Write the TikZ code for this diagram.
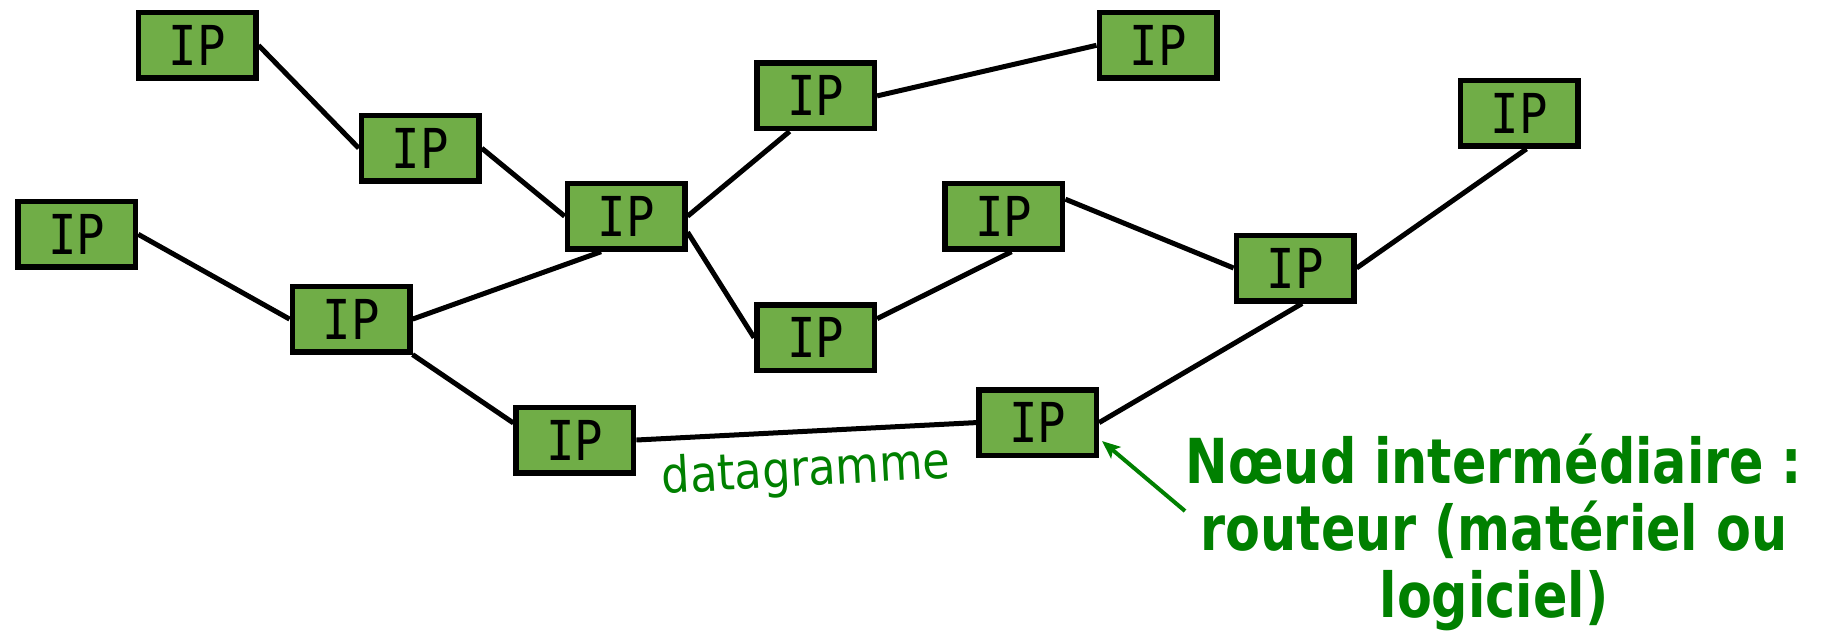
\documentclass[tikz,border=0pt]{standalone}
\usepackage{fontspec}
\setmainfont{DejaVu Sans}
\newfontfamily\ipfont[FakeStretch=0.86]{DejaVu Sans Mono}
\newfontfamily\dgfont[FakeStretch=0.89]{DejaVu Sans}
\newfontfamily\condbold[FakeStretch=0.82]{DejaVu Sans Bold}
\usetikzlibrary{calc,arrows.meta,backgrounds}
\definecolor{boxgreen}{HTML}{70AD47}
\definecolor{txtgreen}{HTML}{008000}
\tikzset{
  ipbox/.style={draw=black, line width=5.5pt, fill=boxgreen, minimum width=117.5pt, minimum height=65.5pt, inner sep=0pt, font=\ipfont\fontsize{55}{60}\selectfont},
  link/.style={line width=5pt, black},
}
\begin{document}
\begin{tikzpicture}[x=1pt,y=-1pt]
\useasboundingbox (0,0) rectangle (1823,630);
\node[ipbox] (A) at (197,45.3) {IP};
\node[ipbox] (B) at (420.3,148.2) {IP};
\node[ipbox] (C) at (76.7,234.3) {IP};
\node[ipbox] (D) at (626.1,216.2) {IP};
\node[ipbox] (E) at (351.1,319.1) {IP};
\node[ipbox] (F) at (815.6,95.9) {IP};
\node[ipbox] (G) at (1158,45.3) {IP};
\node[ipbox] (H) at (1519,113.4) {IP};
\node[ipbox] (I) at (1003.9,216.2) {IP};
\node[ipbox] (J) at (815.6,337.7) {IP};
\node[ipbox] (K) at (1295.1,268) {IP};
\node[ipbox] (L) at (574.9,440) {IP};
\node[ipbox] (M) at (1037.6,422.6) {IP};
\begin{pgfonlayer}{background}
\draw[link] (A.east) -- (B.west);
\draw[link] (B.east) -- (D.west);
\draw[link] (C.east) -- (E.west);
\draw[link] (E.east) -- ($(D.south)+(-25,0)$);
\draw[link] (E.south east) -- ($(L.west)+(0,-17)$);
\draw[link] (D.east) -- ($(F.south)+(-26,0)$);
\draw[link] ($(D.east)+(0,16)$) -- (J.west);
\draw[link] (F.east) -- (G.west);
\draw[link] ($(J.east)+(0,-19)$) -- ($(I.south)+(7.6,0)$);
\draw[link] ($(I.east)+(0,-17)$) -- (K.west);
\draw[link] (K.east) -- ($(H.south)+(7.5,0)$);
\draw[link] (M.east) -- ($(K.south)+(7,0)$);
\draw[link] (L.east) -- (M.west);
\end{pgfonlayer}
\node[text=txtgreen, font=\dgfont\fontsize{50}{56}\selectfont, rotate=3.2] (dg) at (806,472) {datagramme};
\node[text=txtgreen, font=\condbold\fontsize{62}{67}\selectfont, align=center, anchor=north] (lbl) at (1494,430) {Nœud intermédiaire :\\routeur (matériel ou\\logiciel)};
\coordinate (arrstart) at (1185,511);
\draw[txtgreen, line width=4pt, -{Stealth[length=18pt,width=15pt,inset=4pt]}] (arrstart) -- ($(M.east)+(3,18.5)$);
\end{tikzpicture}
\end{document}
